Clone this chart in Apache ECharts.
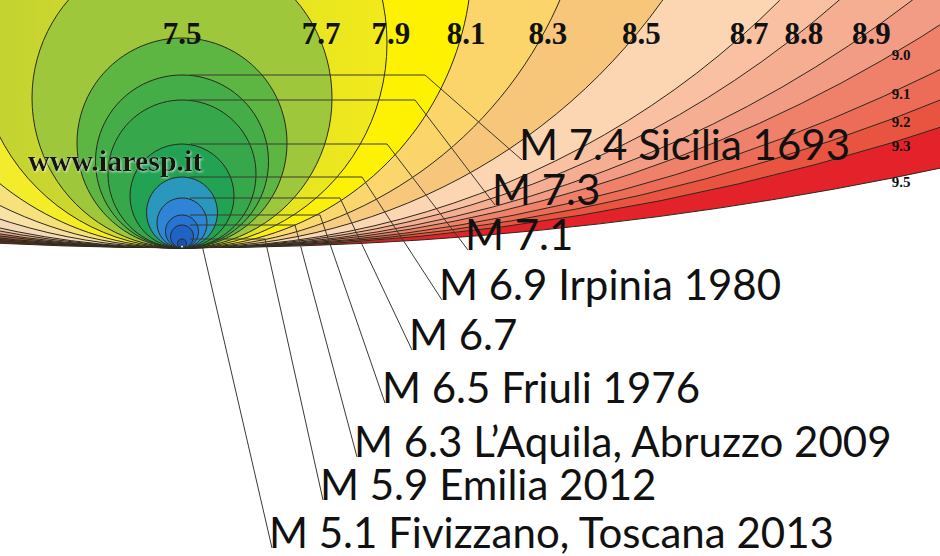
<!DOCTYPE html>
<html>
<head>
<meta charset="utf-8">
<script src="https://cdn.jsdelivr.net/npm/echarts@6/dist/echarts.min.js"></script>
<style>
  html, body { margin: 0; padding: 0; background: #fff; }
  #chart { width: 940px; height: 556px; }
</style>
</head>
<body>
<div id="chart"></div>
<script>
// magnitude scale circles, radius in chart units, all tangent at the origin
const scaleMags = [7.5, 7.7, 7.9, 8.1, 8.3, 8.5, 8.7, 8.8, 8.9, 9.0, 9.1, 9.2, 9.3, 9.5];
const scaleRadii = [105, 150, 205, 290, 412, 590, 845, 995, 1200, 1400, 1700, 2020, 2450, 3650];

// historical earthquakes
const eventNames = [
  'M 7.4 Sicilia 1693',
  'M 7.3',
  'M 7.1',
  'M 6.9 Irpinia 1980',
  'M 6.7',
  'M 6.5 Friuli 1976',
  'M 6.3 L\u2019Aquila, Abruzzo 2009',
  'M 5.9 Emilia 2012',
  'M 5.1 Fivizzano, Toscana 2013'
];
const eventMags = [7.4, 7.3, 7.1, 6.9, 6.7, 6.5, 6.3, 5.9, 5.1];
const eventRadii = [86.5, 74, 52, 35.5, 25, 16.5, 11.5, 4.5, 1.5];

// where each leader bends and where its label sits (chart units)
const leaderLayout = [
  { elbow: 243, end: [340, 88] },
  { elbow: 233, end: [313, 43] },
  { elbow: 205, end: [286, -2] },
  { elbow: 180, end: [260, -52] },
  { elbow: 158, end: [230, -102] },
  { elbow: 138, end: [203, -155] },
  { elbow: 113, end: [175, -209] },
  { elbow: 83, end: [141, -252] },
  { elbow: 20, end: [90, -300] }
];

// fill of each band: [left side, right side]
const bandColors = {
  '5.1': ['#b8ecf8', '#b8ecf8'],
  '5.9': ['#1a52b0', '#1a52b0'],
  '6.3': ['#1f63c4', '#1f63c4'],
  '6.5': ['#2674d4', '#2674d4'],
  '6.7': ['#2e85d6', '#2e85d6'],
  '6.9': ['#2a97bd', '#2a97bd'],
  '7.1': ['#22a253', '#22a253'],
  '7.3': ['#36a84b', '#36a84b'],
  '7.4': ['#45ad47', '#45ad47'],
  '7.5': ['#5db542', '#5db542'],
  '7.7': ['#9ec73c', '#9ec73c'],
  '7.9': ['#c4d332', '#f6ec19'],
  '8.1': ['#f2ec2c', '#fff200'],
  '8.3': ['#f6e27c', '#fbd56a'],
  '8.5': ['#f8e3a6', '#f7c67a'],
  '8.7': ['#f5d8b8', '#fcd6b2'],
  '8.8': ['#f1c5a8', '#f9c1a1'],
  '8.9': ['#e6a78e', '#f6ae93'],
  '9.0': ['#c47c65', '#f39c85'],
  '9.1': ['#a25846', '#ef806a'],
  '9.2': ['#8a3f32', '#ec6c57'],
  '9.3': ['#773026', '#e85440'],
  '9.5': ['#682420', '#e3222a']
};

const circles = scaleMags.map((m, i) => [m, scaleRadii[i]])
  .concat(eventMags.map((m, i) => [m, eventRadii[i]]))
  .sort((a, b) => b[1] - a[1]);

const chart = echarts.init(document.getElementById('chart'), null, { renderer: 'svg' });

const option = {
  animation: false,
  grid: { left: 0, right: 0, top: 0, bottom: 0 },
  xAxis: { type: 'value', min: -182, max: 758, show: false },
  yAxis: { type: 'value', min: -308, max: 248, show: false },
  graphic: [{
    type: 'text',
    left: 28,
    top: 145,
    z: 100,
    style: {
      text: 'www.iaresp.it',
      font: 'bold 30px "Liberation Serif", "DejaVu Serif", serif',
      fill: '#151510',
      textShadowColor: 'rgba(255,255,255,0.7)',
      textShadowBlur: 2,
      textShadowOffsetX: 1,
      textShadowOffsetY: 1
    }
  }],
  series: [
    {
      type: 'custom',
      name: 'circles',
      clip: true,
      silent: true,
      data: circles,
      renderItem: (params, api) => {
        const m = api.value(0);
        const r = api.value(1);
        const c = api.coord([0, r]);
        const rp = api.size([r, r])[0];
        const col = bandColors[m.toFixed(1)];
        return {
          type: 'circle',
          shape: { cx: c[0], cy: c[1], r: rp },
          style: {
            fill: new echarts.graphic.LinearGradient(0, 0, 940, 0, [
              { offset: 0, color: col[0] },
              { offset: 0.45, color: col[1] },
              { offset: 1, color: col[1] }
            ], true),
            stroke: '#2a2a1c',
            lineWidth: 1
          }
        };
      }
    },
    {
      type: 'custom',
      name: 'scale labels',
      clip: true,
      silent: true,
      z: 5,
      data: scaleMags.map((m, i) => [m, scaleRadii[i]]),
      renderItem: (params, api) => {
        const m = api.value(0);
        const r = api.value(1);
        let x, y, size;
        if (m < 9) {
          y = 215;
          x = 2 * r > y ? Math.sqrt(r * r - (y - r) * (y - r)) + 4 : 0;
          size = 31;
        } else {
          x = 719;
          y = r - Math.sqrt(r * r - x * x) - 6;
          size = 15;
        }
        const p = api.coord([x, y]);
        return {
          type: 'text',
          style: {
            x: p[0], y: p[1],
            text: m.toFixed(1),
            font: 'bold ' + size + 'px "Liberation Serif", "DejaVu Serif", serif',
            fill: '#111',
            align: 'center',
            verticalAlign: 'middle'
          }
        };
      }
    },
    {
      type: 'custom',
      name: 'events',
      clip: false,
      silent: true,
      z: 6,
      data: eventMags.map((m, i) => [m, eventRadii[i], i]),
      renderItem: (params, api) => {
        const r = api.value(1);
        const i = api.value(2);
        const lay = leaderLayout[i];
        const pts = [[8, 2 * r], [lay.elbow, 2 * r], lay.end].map(p => api.coord(p));
        const end = pts[2];
        return {
          type: 'group',
          children: [
            {
              type: 'polyline',
              shape: { points: pts },
              style: { stroke: '#3a3a30', lineWidth: 1, fill: null }
            },
            {
              type: 'text',
              style: {
                x: end[0] - 3,
                y: end[1] + 3,
                text: eventNames[i],
                font: '42px Lato, "Open Sans", sans-serif',
                lineHeight: 38,
                fill: '#111',
                align: 'left',
                verticalAlign: 'bottom'
              }
            }
          ]
        };
      }
    }
  ]
};

chart.setOption(option);
</script>
</body>
</html>
